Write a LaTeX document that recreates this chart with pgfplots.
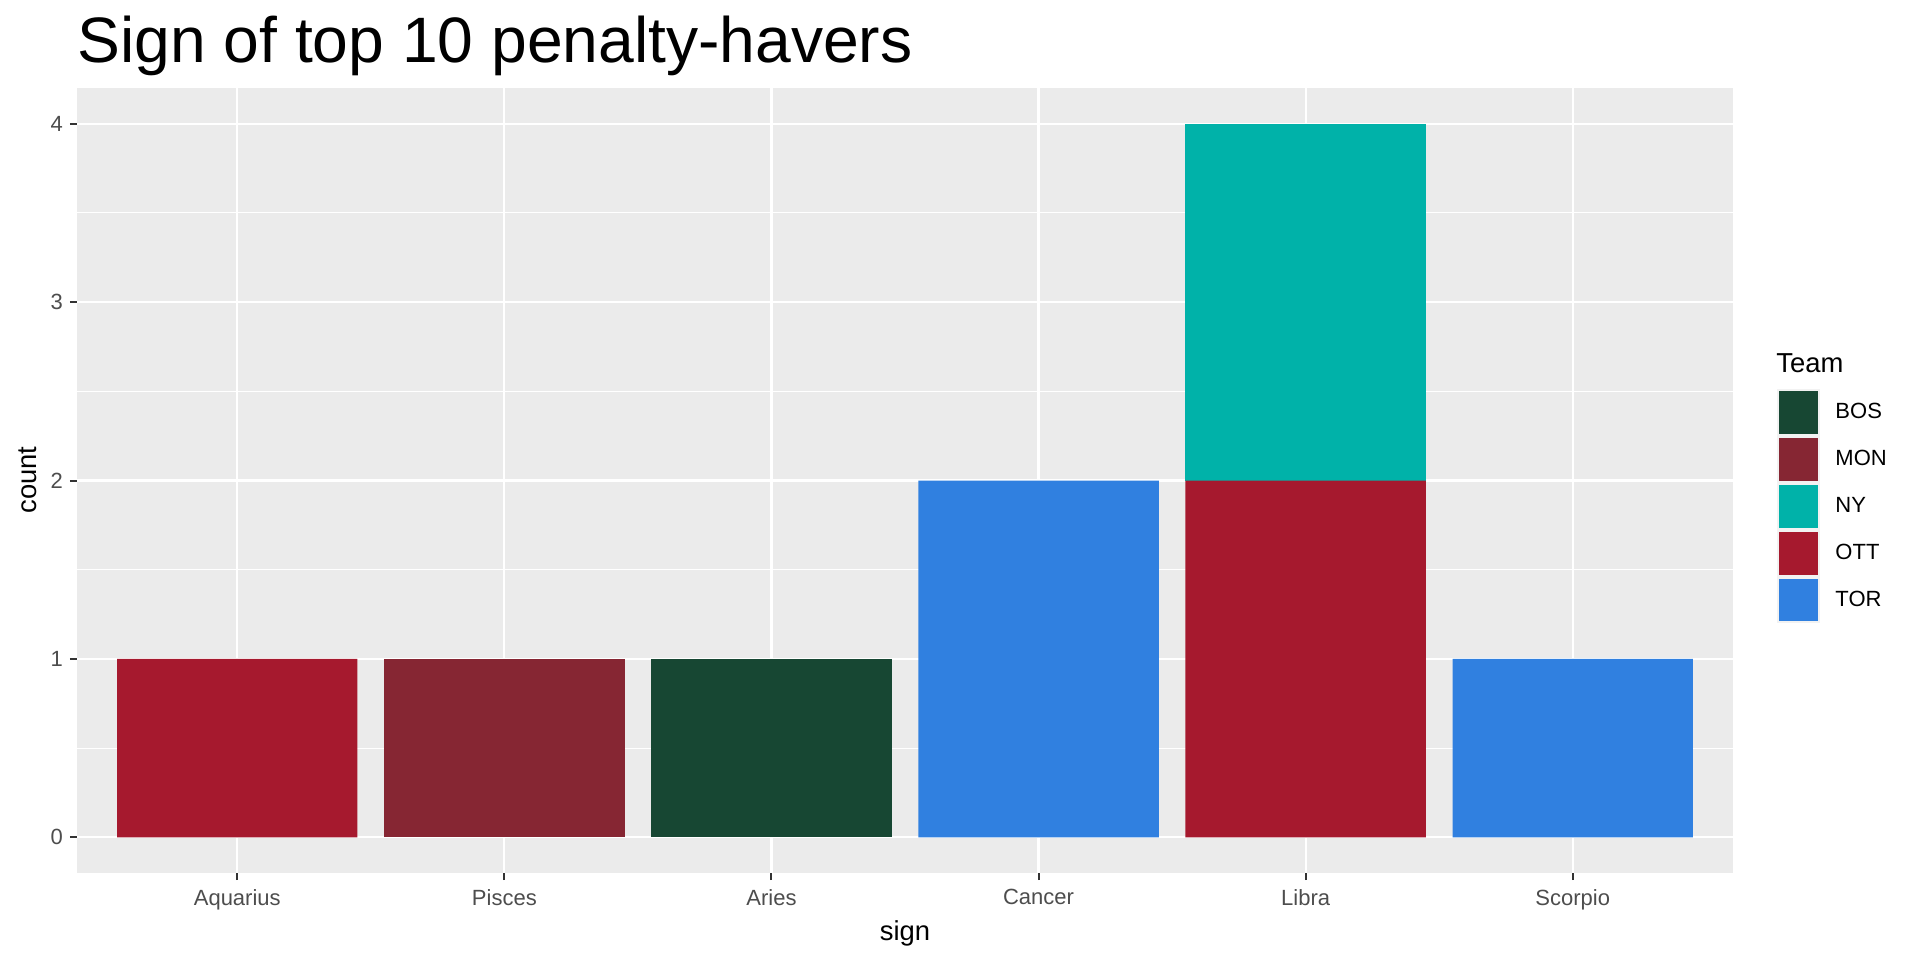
\documentclass[border=0pt]{standalone}
\usepackage{pgfplots}
\pgfplotsset{compat=1.18}
\usepackage{fontspec}
\setmainfont{Liberation Sans}
\definecolor{gray92}{HTML}{EBEBEB}
\definecolor{gray95}{HTML}{F2F2F2}
\definecolor{gray30}{HTML}{4D4D4D}
\definecolor{gray20}{HTML}{333333}
\definecolor{cBOS}{HTML}{174733}
\definecolor{cMON}{HTML}{862633}
\definecolor{cNY}{HTML}{00B2A9}
\definecolor{cOTT}{HTML}{A6192E}
\definecolor{cTOR}{HTML}{3080E0}
\begin{document}
\begin{tikzpicture}[x=1pt,y=1pt]
\useasboundingbox (0,0) rectangle (960,480);
\begin{axis}[
  at={(38.5pt,43.5pt)}, anchor=south west,
  width=828pt, height=392.5pt, scale only axis,
  xmin=0.4, xmax=6.6, ymin=-0.2, ymax=4.2,
  ybar stacked, bar width=0.9,
  xtick={1,2,3,4,5,6},
  xticklabels={Aquarius,Pisces,Aries,Cancer,Libra,Scorpio},
  ytick={0,1,2,3,4},
  minor ytick={0.5,1.5,2.5,3.5},
  axis line style={draw=none},
  axis background/.style={fill=gray92},
  grid=both,
  major grid style={white, line width=1.1pt},
  minor grid style={white, line width=0.55pt},
  tick align=outside, tick pos=left,
  major tick length=3.5pt, minor tick length=0pt,
  tick style={gray20, line width=1pt},
  /pgf/number format/assume math mode=true,
  tick label style={font=\fontsize{11}{13}\selectfont, text=gray30},
  xticklabel style={yshift=-1pt},
  reverse legend,
  legend style={at={(1.0266,0.6166)}, anchor=north west, draw=none, fill=none,
    font=\fontsize{11}{13}\selectfont, row sep=0pt, inner sep=0pt,
    nodes={inner sep=0pt, anchor=west},
    /tikz/every odd column/.append style={column sep=7.5pt}},
  legend cell align=left,
  legend image code/.code={
    \fill[gray95] (0pt,-11.7pt) rectangle (21.5pt,11.7pt);
    \fill[#1] (1pt,-10.7pt) rectangle (20.5pt,10.7pt);},
]
\addplot[fill=cTOR, draw=none] coordinates {(1,0) (2,0) (3,0) (4,2) (5,0) (6,1)};
\addlegendentry{TOR}
\addplot[fill=cOTT, draw=none] coordinates {(1,1) (2,0) (3,0) (4,0) (5,2) (6,0)};
\addlegendentry{OTT}
\addplot[fill=cNY, draw=none] coordinates {(1,0) (2,0) (3,0) (4,0) (5,2) (6,0)};
\addlegendentry{NY}
\addplot[fill=cMON, draw=none] coordinates {(1,0) (2,1) (3,0) (4,0) (5,0) (6,0)};
\addlegendentry{MON}
\addplot[fill=cBOS, draw=none] coordinates {(1,0) (2,0) (3,1) (4,0) (5,0) (6,0)};
\addlegendentry{BOS}
\end{axis}
\node[anchor=base west, font=\fontsize{32.1}{37}\selectfont, inner sep=0pt] at (38.5,448.5) {Sign of top 10 penalty-havers};
\node[anchor=base, font=\fontsize{13.7}{16}\selectfont, inner sep=0pt] at (452.5,9.7) {sign};
\node[anchor=base, rotate=90, font=\fontsize{13.7}{16}\selectfont, inner sep=0pt] at (18.2,240) {count};
\node[anchor=base west, font=\fontsize{13.7}{16}\selectfont, inner sep=0pt] at (888,294) {Team};
\end{tikzpicture}
\end{document}
